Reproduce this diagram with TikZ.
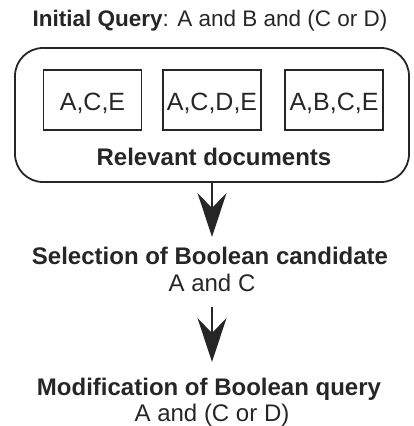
\documentclass[tikz,border=0pt]{standalone}
\usepackage{fontspec}
\setmainfont{Liberation Sans}
\usetikzlibrary{arrows.meta}
\begin{document}
\begin{tikzpicture}[x=1pt,y=-1pt,
  txt/.style={inner sep=0pt,anchor=base,font=\fontsize{24}{28}\selectfont, text=black!85},
  btxt/.style={txt,font=\fontsize{24}{28}\selectfont\bfseries},
  doc/.style={draw=black!85,line width=1.8pt,minimum width=98pt,minimum height=60pt,inner sep=0pt},
  lbl/.style={inner sep=0pt,anchor=base,font=\fontsize{25}{30}\selectfont,text=black!85},
  outerbox/.style={draw=black!85,line width=1.8pt,rounded corners=28pt},
  flow/.style={draw=black!85,line width=1.3pt,-{Stealth[length=44pt,width=29pt,inset=15pt]}}]
\useasboundingbox (0,0) rectangle (413,426);
\node[txt,font=\fontsize{22.5}{26}\selectfont] (title) at (210,26.5) {\textbf{Initial Query}: A and B and (C or D)};
\node[outerbox,minimum width=394pt,minimum height=134pt] (rel) at (212,115) {};
\node[doc] (d1) at (92.5,100) {};
\node[doc] (d2) at (212,100) {};
\node[doc] (d3) at (334,100) {};
\node[lbl] (l1) at (92.5,110) {A,C,E};
\node[lbl] (l2) at (212,110) {A,C,D,E};
\node[lbl] (l3) at (334,110) {A,B,C,E};
\node[btxt] (reltxt) at (214,165) {Relevant documents};
\node[btxt] (sel) at (210,264) {Selection of Boolean candidate};
\node[txt] (selq) at (212,291.5) {A and C};
\node[btxt] (mod) at (209,395) {Modification of Boolean query};
\node[txt] (modq) at (212,421) {A and (C or D)};
\coordinate (t1) at (212,237);
\coordinate (s2) at (212,307);
\coordinate (t2) at (212,362);
\draw[flow] (rel.south) -- (t1);
\draw[flow] (s2) -- (t2);
\end{tikzpicture}
\end{document}
